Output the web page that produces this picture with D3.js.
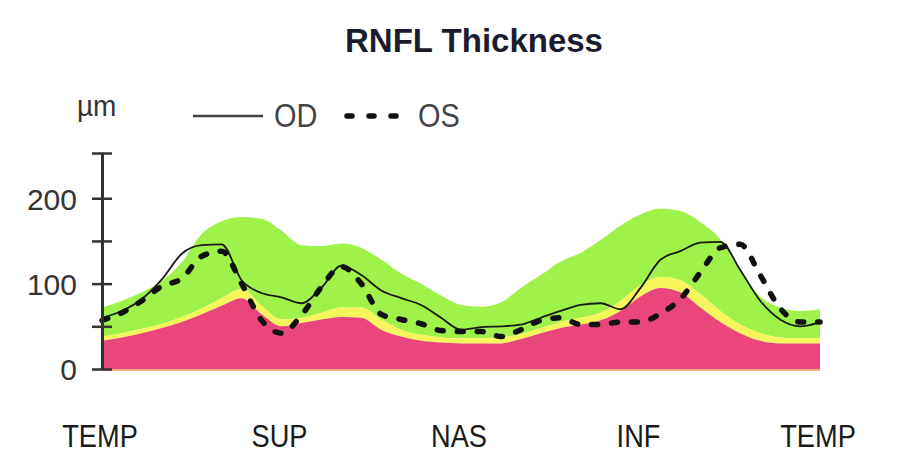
<!DOCTYPE html>
<html>
<head>
<meta charset="utf-8">
<script src="https://cdn.jsdelivr.net/npm/d3@7"></script>
<style>
    body { margin: 0; background: #fff; }
    text { font-family: 'Liberation Sans', Arial, sans-serif; }
</style>
</head>
<body>
<div class="canvas"></div>
<script>
// angle around the disc, TEMP -> SUP -> NAS -> INF -> TEMP
const angles = [0, 10, 20, 30, 40, 50, 60, 70, 80, 90, 100, 110, 120, 130, 140, 150, 160, 170, 180,
    190, 200, 210, 220, 230, 240, 250, 260, 270, 280, 290, 300, 310, 320, 330, 340, 350, 360];

const sectorLabels = ['TEMP', 'SUP', 'NAS', 'INF', 'TEMP'];
const sectorAngles = [0, 90, 180, 270, 360];

// normative bands (upper edge of each band, µm)
const redTop = [33, 37, 42, 48, 55, 64, 74, 83, 64, 50, 54, 58, 61, 60, 46, 38, 33, 31, 30,
    30, 30, 35, 42, 48, 52, 57, 68, 85, 95, 90, 72, 55, 42, 33, 30, 30, 30];
const yellowTop = [38, 42, 47, 53, 61, 71, 83, 94, 74, 58, 60, 66, 72, 72, 58, 46, 40, 37, 36,
    36, 37, 41, 48, 55, 60, 66, 80, 98, 108, 104, 88, 68, 52, 42, 37, 36, 36];
const greenTop = [72, 80, 90, 103, 125, 158, 173, 178, 176, 162, 145, 144, 147, 142, 128, 112, 100, 86, 75,
    73, 78, 95, 110, 126, 136, 151, 168, 181, 188, 185, 172, 152, 115, 85, 72, 68, 70];

// measured thickness
const odValues = [60, 68, 82, 105, 135, 145, 146, 104, 89, 84, 77, 95, 121, 110, 92, 83, 75, 60, 46,
    49, 50, 52, 60, 68, 75, 77, 70, 95, 128, 138, 148, 149, 116, 80, 58, 50, 55];
const osValues = [57, 66, 80, 97, 106, 132, 138, 100, 57, 42, 63, 96, 120, 100, 64, 58, 53, 45, 44,
    44, 38, 46, 57, 60, 52, 52, 55, 55, 65, 82, 113, 142, 146, 110, 71, 55, 55];

const yTicks = [0, 50, 100, 150, 200, 253];
const yLabelled = [0, 100, 200];

const dims = { width: 906, height: 468 };
const plot = { left: 102, right: 820, top: 153, bottom: 369 };

const svg = d3.select('.canvas')
    .append('svg')
    .attr('width', dims.width)
    .attr('height', dims.height)
;

const x = d3.scaleLinear()
    .domain([0, 360])
    .range([plot.left, plot.right]);

const y = d3.scaleLinear()
    .domain([0, 253])
    .range([plot.bottom, plot.top]);

const rows = angles.map((a, i) => ({
    a,
    red: redTop[i],
    yellow: yellowTop[i],
    green: greenTop[i],
    od: odValues[i],
    os: osValues[i]
}));

const band = (lo, hi) => d3.area()
    .curve(d3.curveMonotoneX)
    .x(d => x(d.a))
    .y0(d => lo ? y(d[lo]) : y(0))
    .y1(d => y(d[hi]));

const bands = svg.append('g');
bands.append('path').datum(rows).attr('fill', '#9ef24a').attr('d', band('yellow', 'green'));
bands.append('path').datum(rows).attr('fill', '#f6f65c').attr('d', band('red', 'yellow'));
bands.append('path').datum(rows).attr('fill', '#e9467c').attr('d', band(null, 'red'));

// thin orange base under the red band
svg.append('line')
    .attr('x1', x(0)).attr('x2', x(360))
    .attr('y1', y(0) + 1).attr('y2', y(0) + 1)
    .attr('stroke', '#f4b080')
    .attr('stroke-width', 2);

const line = key => d3.line()
    .curve(d3.curveMonotoneX)
    .x(d => x(d.a))
    .y(d => y(d[key]));

svg.append('path').datum(rows)
    .attr('fill', 'none')
    .attr('stroke', '#1a1a1a')
    .attr('stroke-width', 1.8)
    .attr('d', line('od'));

svg.append('path').datum(rows)
    .attr('fill', 'none')
    .attr('stroke', '#111')
    .attr('stroke-width', 5.5)
    .attr('stroke-linecap', 'round')
    .attr('stroke-dasharray', '6,14')
    .attr('d', line('os'));

// y axis, ticks cross the spine
const yAxis = d3.axisLeft(y)
    .tickValues(yTicks)
    .tickSizeInner(10)
    .tickSizeOuter(0)
    .tickPadding(15)
    .tickFormat(v => yLabelled.includes(v) ? v : '');

const axisG = svg.append('g')
    .attr('transform', `translate(${plot.left}, 0)`)
    .call(yAxis);

axisG.select('.domain').attr('stroke', '#333').attr('stroke-width', 3);
axisG.selectAll('.tick line')
    .attr('x1', 10)
    .attr('stroke', '#333')
    .attr('stroke-width', 2.5);
axisG.selectAll('.tick text')
    .attr('font-size', 30)
    .attr('fill', '#333')
    .attr('dy', '0.36em')
    .style('font-family', "'Liberation Sans', Arial, sans-serif");

// sector labels
svg.append('g').selectAll('text')
    .data(sectorLabels)
    .enter()
    .append('text')
    .attr('transform', (d, i) => `translate(${x(sectorAngles[i]) - 2}, 447) scale(0.85, 1)`)
    .attr('text-anchor', 'middle')
    .attr('font-size', 32)
    .attr('fill', '#1a1a1a')
    .text(d => d);

// title
svg.append('text')
    .attr('x', 474)
    .attr('y', 52)
    .attr('text-anchor', 'middle')
    .attr('font-size', 33)
    .attr('font-weight', 'bold')
    .attr('fill', '#1c1c30')
    .text('RNFL Thickness');

// unit + legend
svg.append('text')
    .attr('transform', 'translate(77, 116) scale(1, 1.05)')
    .attr('font-size', 28)
    .attr('fill', '#333')
    .text('µm');

const legend = svg.append('g');
legend.append('line')
    .attr('x1', 193).attr('x2', 263)
    .attr('y1', 116).attr('y2', 116)
    .attr('stroke', '#444')
    .attr('stroke-width', 2.5);
legend.append('text')
    .attr('transform', 'translate(274, 127) scale(0.85, 1)')
    .attr('font-size', 34)
    .attr('fill', '#444')
    .text('OD');
legend.append('line')
    .attr('x1', 347).attr('x2', 403)
    .attr('y1', 116).attr('y2', 116)
    .attr('stroke', '#111')
    .attr('stroke-width', 5.5)
    .attr('stroke-linecap', 'round')
    .attr('stroke-dasharray', '5,17');
legend.append('text')
    .attr('transform', 'translate(418, 127) scale(0.85, 1)')
    .attr('font-size', 34)
    .attr('fill', '#444')
    .text('OS');
</script>
</body>
</html>
